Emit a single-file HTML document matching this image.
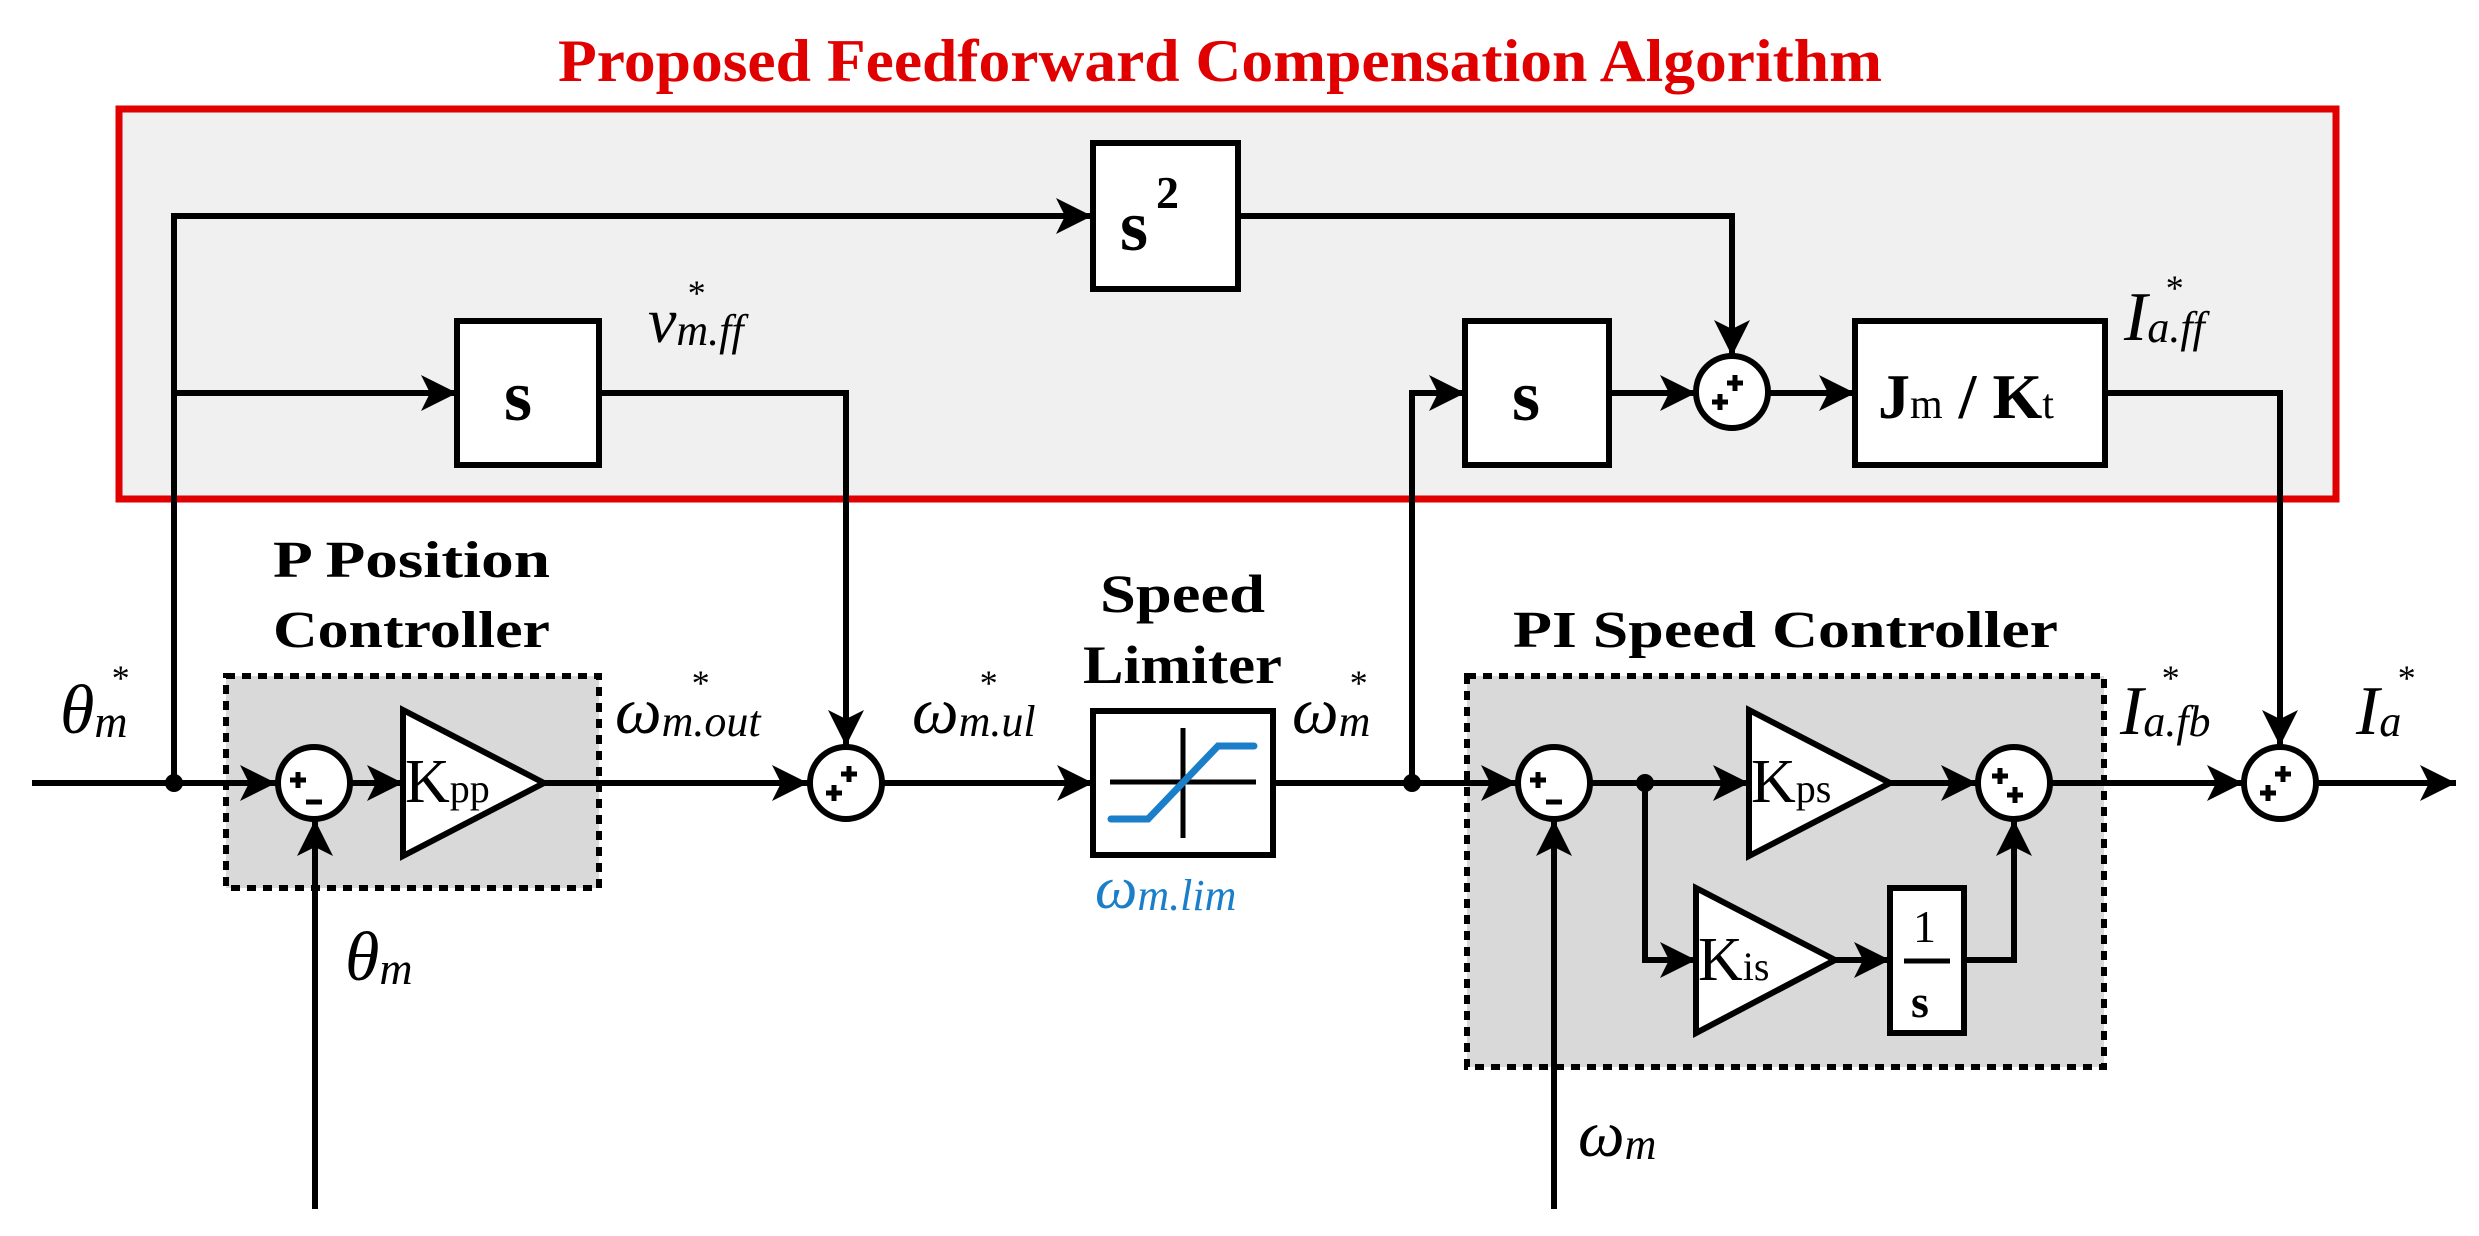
<!DOCTYPE html>
<html><head><meta charset="utf-8"><style>
html,body{margin:0;padding:0;background:#fff;}
svg{display:block;}
.t{font-family:"Liberation Serif",serif;}
.b{font-family:"Liberation Serif",serif;font-weight:bold;}
.i{font-family:"Liberation Serif",serif;font-style:italic;}
</style></head><body>
<svg width="2479" height="1236" viewBox="0 0 2479 1236" xmlns="http://www.w3.org/2000/svg">
<defs>
<marker id="ar" viewBox="0 0 10 10" refX="10" refY="5" markerWidth="6" markerHeight="6" markerUnits="strokeWidth" orient="auto">
<path d="M0,0 L10,5 L0,10 L2.5,5 Z" fill="#000"/></marker>
</defs>
<text class="b" x="558" y="81" font-size="60" fill="#e00000" textLength="1324" lengthAdjust="spacingAndGlyphs">Proposed Feedforward Compensation Algorithm</text>
<rect x="119" y="109" width="2217" height="390" fill="#f0f0f0" stroke="#e00000" stroke-width="7"/>
<rect x="226" y="676" width="373" height="212" fill="#d9d9d9" stroke="#000" stroke-width="6" stroke-dasharray="9,7"/>
<rect x="1467" y="676" width="637" height="391" fill="#d9d9d9" stroke="#000" stroke-width="6" stroke-dasharray="9,7"/>

<g stroke="#000" stroke-width="6" fill="none">
<line x1="32" y1="783" x2="276" y2="783" marker-end="url(#ar)"/>
<polyline points="174,783 174,216 1092,216" marker-end="url(#ar)"/>
<line x1="174" y1="393" x2="457" y2="393" marker-end="url(#ar)"/>
<polyline points="599,393 846,393 846,746" marker-end="url(#ar)"/>
<polyline points="1238,216 1732,216 1732,356" marker-end="url(#ar)"/>
<line x1="350" y1="783" x2="403" y2="783" marker-end="url(#ar)"/>
<line x1="544" y1="783" x2="808" y2="783" marker-end="url(#ar)"/>
<line x1="315" y1="1209" x2="315" y2="820" marker-end="url(#ar)"/>
<line x1="882" y1="783" x2="1093" y2="783" marker-end="url(#ar)"/>
<line x1="1273" y1="783" x2="1517" y2="783" marker-end="url(#ar)"/>
<polyline points="1412,783 1412,393 1465,393" marker-end="url(#ar)"/>
<line x1="1609" y1="393" x2="1696" y2="393" marker-end="url(#ar)"/>
<line x1="1768" y1="393" x2="1855" y2="393" marker-end="url(#ar)"/>
<polyline points="2105,393 2280,393 2280,746" marker-end="url(#ar)"/>
<line x1="1590" y1="783" x2="1749" y2="783" marker-end="url(#ar)"/>
<line x1="1890" y1="783" x2="1977" y2="783" marker-end="url(#ar)"/>
<polyline points="1645,783 1645,960 1696,960" marker-end="url(#ar)"/>
<line x1="1835" y1="960" x2="1890" y2="960" marker-end="url(#ar)"/>
<polyline points="1964,960 2014,960 2014,820" marker-end="url(#ar)"/>
<line x1="1554" y1="1209" x2="1554" y2="820" marker-end="url(#ar)"/>
<line x1="2050" y1="783" x2="2243" y2="783" marker-end="url(#ar)"/>
<line x1="2317" y1="783" x2="2456" y2="783" marker-end="url(#ar)"/>
</g>

<circle cx="174" cy="783" r="9" fill="#000"/>
<circle cx="1412" cy="783" r="9" fill="#000"/>
<circle cx="1645" cy="783" r="9" fill="#000"/>

<g stroke="#000" stroke-width="6" fill="#fff">
<rect x="1093" y="143" width="145" height="146"/>
<rect x="457" y="321" width="142" height="144"/>
<rect x="1465" y="321" width="144" height="144"/>
<rect x="1855" y="321" width="250" height="144"/>
<rect x="1093" y="711" width="180" height="144"/>
<rect x="1890" y="888" width="74" height="145"/>
<polygon points="403,710 544,783 403,856"/>
<polygon points="1749,710 1890,783 1749,856"/>
<polygon points="1696,888 1835,960 1696,1033"/>
<circle cx="314" cy="783" r="36"/>
<circle cx="846" cy="783" r="36"/>
<circle cx="1554" cy="783" r="36"/>
<circle cx="2014" cy="783" r="36"/>
<circle cx="2280" cy="783" r="36"/>
<circle cx="1732" cy="392" r="36"/>
</g>

<g stroke="#000" stroke-width="5">
<line x1="1110" y1="782" x2="1256" y2="782"/>
<line x1="1183" y1="728" x2="1183" y2="838"/>
</g>
<polyline points="1111,819 1148,819 1218,746 1254,746" stroke="#1a7fc8" stroke-width="7" fill="none" stroke-linecap="round"/>

<!-- signs -->
<g stroke="#000" stroke-width="5" fill="none">
<path d="M290,780 h16 M298,772 v16"/><path d="M306,802 h16"/>
<path d="M1530,780 h16 M1538,772 v16"/><path d="M1546,802 h16"/>
<path d="M826,793 h16 M834,785 v16"/><path d="M841,774 h16 M849,766 v16"/>
<path d="M2260,793 h16 M2268,785 v16"/><path d="M2275,774 h16 M2283,766 v16"/>
<path d="M1712,402 h16 M1720,394 v16"/><path d="M1727,383 h16 M1735,375 v16"/>
<path d="M1992,776 h16 M2000,768 v16"/><path d="M2007,795 h16 M2015,787 v16"/>
</g>

<text class="b" x="1120" y="250" font-size="72">s</text>
<text class="b" x="1156" y="208" font-size="46">2</text>
<text class="b" x="504" y="420" font-size="72">s</text>
<text class="b" x="1512" y="420" font-size="72">s</text>
<text class="b" x="1878" y="418" font-size="64">J<tspan font-size="42" font-weight="normal">m</tspan> / K<tspan font-size="42" font-weight="normal">t</tspan></text>
<text class="t" x="405" y="802" font-size="62">K<tspan font-size="40">pp</tspan></text>
<text class="t" x="1751" y="802" font-size="62">K<tspan font-size="40">ps</tspan></text>
<text class="t" x="1698" y="980" font-size="62">K<tspan font-size="40">is</tspan></text>
<text class="t" x="1913" y="942" font-size="46">1</text>
<line x1="1904" y1="961" x2="1950" y2="961" stroke="#000" stroke-width="5"/>
<text class="b" x="1911" y="1017" font-size="46">s</text>

<text class="b" x="273" y="577" font-size="52" textLength="277" lengthAdjust="spacingAndGlyphs">P Position</text>
<text class="b" x="273" y="647" font-size="52" textLength="277" lengthAdjust="spacingAndGlyphs">Controller</text>
<text class="b" x="1100" y="612" font-size="54" textLength="165" lengthAdjust="spacingAndGlyphs">Speed</text>
<text class="b" x="1083" y="683" font-size="54" textLength="199" lengthAdjust="spacingAndGlyphs">Limiter</text>
<text class="b" x="1513" y="647" font-size="52" textLength="545" lengthAdjust="spacingAndGlyphs">PI Speed Controller</text>

<g class="i" fill="#000">
<text x="60" y="733" font-size="70">θ<tspan font-size="46" dy="4">m</tspan></text>
<text x="110" y="690" font-size="36">*</text>
<text x="345" y="980" font-size="70">θ<tspan font-size="46" dy="4">m</tspan></text>
<text x="648" y="342" font-size="64">v<tspan font-size="44" dy="3">m.ff</tspan></text>
<text x="686" y="305" font-size="36">*</text>
<text x="615" y="733" font-size="66">ω<tspan font-size="44" dy="3">m.out</tspan></text>
<text x="690" y="695" font-size="36">*</text>
<text x="912" y="733" font-size="66">ω<tspan font-size="44" dy="3">m.ul</tspan></text>
<text x="978" y="695" font-size="36">*</text>
<text x="1292" y="733" font-size="66">ω<tspan font-size="44" dy="3">m</tspan></text>
<text x="1348" y="695" font-size="36">*</text>
<text x="1095" y="908" font-size="60" fill="#1a7fc8">ω<tspan font-size="44" dy="2">m.lim</tspan></text>
<text x="1578" y="1156" font-size="66">ω<tspan font-size="44" dy="3">m</tspan></text>
<text x="2120" y="734" font-size="70">I<tspan font-size="44" dy="2">a.fb</tspan></text>
<text x="2160" y="690" font-size="36">*</text>
<text x="2356" y="734" font-size="70">I<tspan font-size="44" dy="2">a</tspan></text>
<text x="2396" y="690" font-size="36">*</text>
<text x="2124" y="340" font-size="70">I<tspan font-size="44" dy="2">a.ff</tspan></text>
<text x="2164" y="300" font-size="36">*</text>
</g>
</svg>
</body></html>
